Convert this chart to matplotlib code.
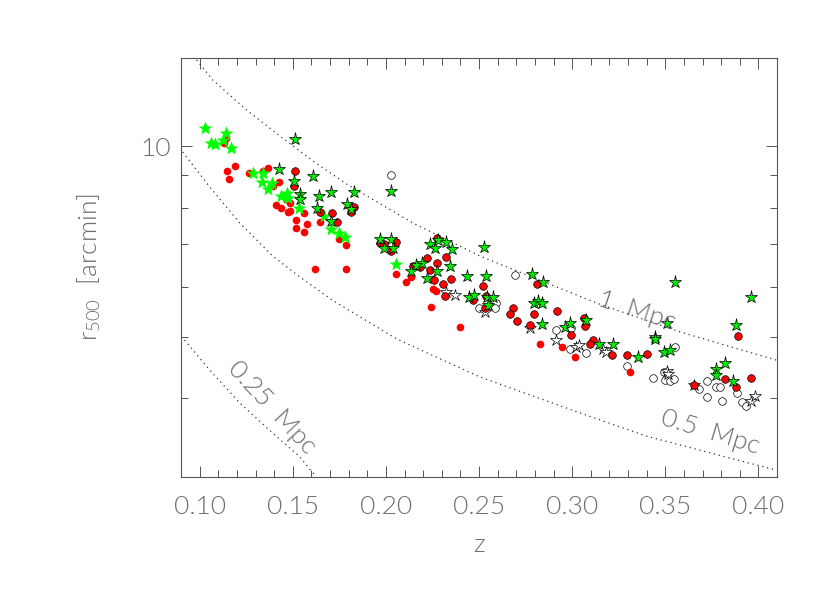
import matplotlib
matplotlib.use("Agg")
import matplotlib.pyplot as plt
from matplotlib.ticker import LogLocator, NullFormatter, FixedLocator, FixedFormatter

# reference curves (fixed physical radius)
mpc1_z = [0.0984, 0.1070, 0.1252, 0.1430, 0.1607, 0.1789, 0.2144, 0.2504, 0.2864, 0.3148, 0.3578, 0.4099]
mpc1_r = [13.70, 12.74, 11.42, 10.39, 9.49, 8.72, 7.57, 6.71, 6.08, 5.63, 5.09, 4.59]
mpc05_z = [0.0909, 0.1054, 0.1215, 0.1392, 0.1537, 0.1714, 0.2058, 0.2504, 0.3041, 0.3401, 0.4088]
mpc05_r = [9.80, 8.63, 7.57, 6.71, 6.22, 5.71, 4.96, 4.32, 3.79, 3.48, 3.08]
mpc025_z = [0.0919, 0.1054, 0.1215, 0.1392, 0.1537, 0.1618]
mpc025_r = [4.94, 4.43, 3.93, 3.52, 3.23, 3.02]

# bright green stars (no outline)
lime_z = [0.1027, 0.1063, 0.1081, 0.1125, 0.1143, 0.1170, 0.1285, 0.1340, 0.1337, 0.1389,
          0.1368, 0.1439, 0.1469, 0.1477, 0.1533, 0.1668, 0.1706, 0.1748, 0.1779, 0.2054]
lime_r = [10.69, 10.12, 10.08, 10.24, 10.50, 9.96, 9.08, 9.08, 8.80, 8.74,
          8.57, 8.35, 8.43, 8.28, 8.00, 7.76, 7.41, 7.29, 7.18, 6.51]

# green stars with black outline
gstar_z = [0.1512, 0.1426, 0.1508, 0.1608, 0.1540, 0.1537, 0.1641, 0.1630, 0.1707, 0.1707,
           0.1791, 0.1811, 0.1827, 0.2026, 0.1967, 0.1990, 0.2026, 0.2038, 0.2235, 0.2262,
           0.2278, 0.2325, 0.2353, 0.2525, 0.2192, 0.2164, 0.2137, 0.2343, 0.2275, 0.2223,
           0.2436, 0.2536, 0.2445, 0.2472, 0.2541, 0.2575, 0.2547, 0.2787, 0.2844, 0.2794,
           0.2817, 0.2837, 0.2837, 0.2962, 0.2991, 0.3072, 0.3146, 0.3221, 0.3352, 0.3492,
           0.3524, 0.3444, 0.3444, 0.3511, 0.3554, 0.3771, 0.3771, 0.3820, 0.3862, 0.3882,
           0.3961]
gstar_r = [10.27, 9.20, 8.82, 8.99, 8.41, 8.25, 8.36, 7.98, 8.47, 7.62,
           8.11, 7.97, 8.47, 8.50, 7.15, 6.90, 7.13, 6.92, 7.00, 6.92,
           7.11, 7.05, 6.88, 6.94, 6.54, 6.50, 6.35, 6.47, 6.36, 6.20,
           6.24, 6.24, 5.78, 5.82, 5.77, 5.78, 5.61, 6.28, 6.11, 5.65,
           5.70, 5.66, 5.23, 5.19, 5.26, 5.31, 4.87, 4.87, 4.65, 4.73,
           4.77, 5.00, 4.96, 5.26, 6.10, 4.44, 4.35, 4.54, 4.25, 5.22,
           5.78]

# red circles with black outline
redo_z = [0.1512, 0.1509, 0.1645, 0.1711, 0.1740, 0.1827, 0.1815, 0.1967, 0.1990, 0.2026,
          0.2053, 0.2274, 0.2325, 0.2274, 0.2223, 0.2147, 0.2182, 0.2235, 0.2261, 0.2307,
          0.2352, 0.2523, 0.2318, 0.2470, 0.2536, 0.2533, 0.2814, 0.2684, 0.2665, 0.2704,
          0.2794, 0.2919, 0.2776, 0.2992, 0.3064, 0.3068, 0.3112, 0.3095, 0.3215, 0.3295,
          0.3402, 0.3653, 0.3820, 0.3882, 0.3961, 0.3891]
redo_r = [9.15, 8.65, 7.89, 7.86, 7.59, 8.03, 7.88, 7.04, 7.02, 6.83,
          7.07, 7.17, 6.69, 6.53, 6.67, 6.46, 6.45, 6.37, 6.15, 6.07,
          6.18, 6.02, 5.80, 5.72, 5.80, 5.56, 6.07, 5.56, 5.43, 5.29,
          5.43, 5.49, 5.22, 5.04, 5.35, 5.20, 4.94, 4.87, 4.68, 4.68,
          4.70, 4.19, 4.29, 4.17, 4.31, 5.01]

# red circles, no outline
red_z = [0.1129, 0.1143, 0.1147, 0.1188, 0.1160, 0.1265, 0.1338, 0.1367, 0.1394, 0.1426,
         0.1465, 0.1483, 0.1408, 0.1439, 0.1473, 0.1483, 0.1559, 0.1519, 0.1576, 0.1519,
         0.1562, 0.1648, 0.1748, 0.1784, 0.1621, 0.1788, 0.2056, 0.2106, 0.2137, 0.2253,
         0.2271, 0.2244, 0.2396, 0.2830, 0.2946, 0.3014, 0.3309]
red_r = [10.12, 10.33, 9.15, 9.31, 8.88, 9.08, 9.15, 9.23, 8.66, 8.77,
         8.26, 8.15, 8.07, 8.00, 7.88, 7.90, 7.85, 7.66, 7.53, 7.44,
         7.32, 7.60, 7.15, 6.99, 6.41, 6.41, 6.28, 6.10, 6.21, 5.96,
         5.91, 5.58, 5.18, 4.87, 4.82, 4.64, 4.39]

# open circles
ocirc_z = [0.2026, 0.2695, 0.2593, 0.2584, 0.2500, 0.2912, 0.2992, 0.2991, 0.3077, 0.3292,
           0.3434, 0.3492, 0.3497, 0.3524, 0.3546, 0.3555, 0.3682, 0.3723, 0.3726, 0.3771,
           0.3793, 0.3807, 0.3886, 0.3910, 0.3931]
ocirc_r = [9.02, 6.25, 5.65, 5.55, 5.55, 5.12, 5.16, 4.79, 4.72, 4.50,
           4.31, 4.39, 4.27, 4.26, 4.28, 4.82, 4.13, 4.26, 4.02, 4.17,
           4.17, 3.96, 4.08, 3.94, 3.88]

# open stars
ostar_z = [0.2321, 0.2371, 0.2533, 0.2772, 0.2916, 0.3019, 0.3038, 0.3166, 0.3184, 0.3510,
           0.3515, 0.3656, 0.3958, 0.3983]
ostar_r = [5.88, 5.82, 5.48, 5.17, 4.94, 4.82, 4.85, 4.78, 4.73, 4.41,
           4.36, 4.19, 3.95, 4.03]

xticks = [0.10, 0.15, 0.20, 0.25, 0.30, 0.35, 0.40]
xtick_labels = ["0.10", "0.15", "0.20", "0.25", "0.30", "0.35", "0.40"]

txt_col = "#6e6e6e"
font = "Lato"
wt = 300
plt.rcParams["mathtext.fontset"] = "custom"
plt.rcParams["mathtext.rm"] = "Lato:weight=300"
plt.rcParams["mathtext.it"] = "Lato:weight=300"

fig = plt.figure(figsize=(8.3, 5.93), dpi=100)
ax = fig.add_axes([181 / 830, 116 / 593, 596 / 830, 419 / 593])

# dotted reference curves
dots = dict(color="#333333", linestyle=(0, (1, 3)), linewidth=0.9)
ax.plot(mpc1_z, mpc1_r, **dots)
ax.plot(mpc05_z, mpc05_r, **dots)
ax.plot(mpc025_z, mpc025_r, **dots)

lbl = dict(ha="center", va="center", fontsize=19, color=txt_col, family=font, fontweight=wt)
ax.text(0.3347, 5.49, "1  Mpc", rotation=-18, **lbl)
ax.text(0.3739, 3.53, "0.5  Mpc", rotation=-17, **lbl)
ax.text(0.1387, 3.86, "0.25  Mpc", rotation=-47, **lbl)

# points
ax.plot(ocirc_z, ocirc_r, "o", ms=5.5, mfc="white", mec="black", mew=0.5)
ax.plot(ostar_z, ostar_r, "*", ms=9, mfc="white", mec="black", mew=0.5)
ax.plot(red_z, red_r, "o", ms=5.5, mfc="#ff0000", mec="none")
ax.plot(lime_z, lime_r, "*", ms=10, mfc="#00ff00", mec="none")
ax.plot(redo_z, redo_r, "o", ms=5.5, mfc="#ff0000", mec="black", mew=0.5)
ax.plot(gstar_z, gstar_r, "*", ms=9.5, mfc="#00ee00", mec="black", mew=0.5)

ax.set_yscale("log")
ax.set_xlim(0.09, 0.41)
ax.set_ylim(3.0, 13.8)

ax.xaxis.set_major_locator(FixedLocator(xticks))
ax.xaxis.set_major_formatter(FixedFormatter(xtick_labels))
ax.set_xticks([0.09 + 0.01 * i for i in range(33)], minor=True)
ax.yaxis.set_major_locator(FixedLocator([10]))
ax.yaxis.set_major_formatter(FixedFormatter(["10"]))
ax.yaxis.set_minor_locator(LogLocator(base=10, subs=range(2, 10)))
ax.yaxis.set_minor_formatter(NullFormatter())

ax.tick_params(which="both", direction="in", top=True, right=True,
               color="#555555", width=0.7, labelcolor=txt_col, labelsize=19)
ax.tick_params(axis="x", which="both", pad=13)
ax.tick_params(axis="y", which="both", pad=7)
ax.tick_params(which="major", length=8)
ax.tick_params(which="minor", length=5)
for lab in ax.get_xticklabels() + ax.get_yticklabels():
    lab.set_family(font)
    lab.set_fontweight(wt)

for sp in ax.spines.values():
    sp.set_color("#555555")
    sp.set_linewidth(0.8)

ax.set_xlabel("z", fontsize=19, color=txt_col, family=font, fontweight=wt, labelpad=10)
ax.set_ylabel(r"r$_{\mathrm{500}}$  [arcmin]", fontsize=19, color=txt_col, family=font,
              fontweight=wt, labelpad=27)

fig.savefig("out.png", dpi=100)
